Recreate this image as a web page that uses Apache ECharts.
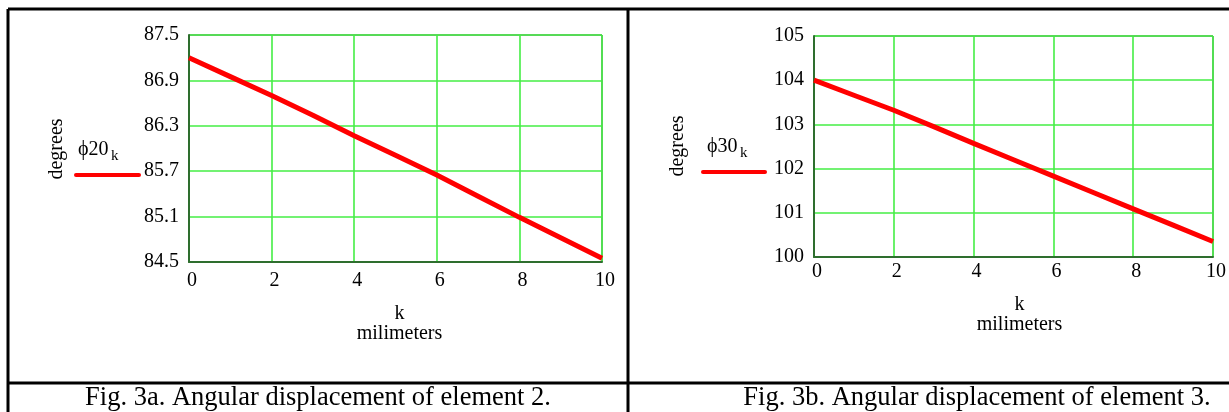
<!DOCTYPE html>
<html>
<head>
<meta charset="utf-8">
<style>
html, body { margin: 0; padding: 0; background: #fff; }
#chart { width: 1229px; height: 412px; }
</style>
<script src="https://cdn.jsdelivr.net/npm/echarts@6/dist/echarts.min.js"></script>
</head>
<body>
<div id="chart"></div>
<script>
// k in milimeters
var kValues = [0, 1, 2, 3, 4, 5, 6, 7, 8, 9, 10];
// angular displacement of element 2 (degrees)
var phi20 = [87.20, 86.95, 86.70, 86.44, 86.17, 85.91, 85.65, 85.37, 85.09, 84.82, 84.55];
// angular displacement of element 3 (degrees)
var phi30 = [104.00, 103.66, 103.32, 102.95, 102.57, 102.20, 101.83, 101.46, 101.09, 100.72, 100.35];
var phi20Ticks = [84.5, 85.1, 85.7, 86.3, 86.9, 87.5];
var phi30Ticks = [100, 101, 102, 103, 104, 105];
var kTicks = [0, 2, 4, 6, 8, 10];
var captions = ['Fig. 3a. Angular displacement of element 2.', 'Fig. 3b. Angular displacement of element 3.'];

var serif = '"Liberation Serif", "Times New Roman", "DejaVu Serif", serif';
var gridGreen = '#44ee44';
var axisGreen = '#2e6e2e';

function pairs(xs, ys) {
	return xs.map(function(x, i) { return [x, ys[i]]; });
}

function xAxisCfg(idx, namePad) {
	return {
		type: 'value',
		gridIndex: idx,
		min: kTicks[0],
		max: kTicks[kTicks.length - 1],
		interval: kTicks[1] - kTicks[0],
		name: 'k\nmilimeters',
		nameLocation: 'middle',
		nameGap: idx == 0 ? 42 : 38,
		nameTextStyle: {
			color: '#000',
			fontFamily: serif,
			fontSize: 20,
			lineHeight: 20,
			padding: namePad
		},
		axisLine: { show: true, onZero: false, lineStyle: { color: axisGreen, width: 2 } },
		axisTick: { show: false },
		axisLabel: {
			color: '#000',
			fontFamily: serif,
			fontSize: 20,
			margin: idx == 0 ? 9 : 5,
			padding: [0, 0, 0, 6]
		},
		splitLine: { show: true, lineStyle: { color: gridGreen, width: 1.6 } }
	};
}

function yAxisCfg(idx, ticks, digits) {
	return {
		type: 'value',
		gridIndex: idx,
		min: ticks[0],
		max: ticks[ticks.length - 1],
		axisLine: { show: true, onZero: false, lineStyle: { color: axisGreen, width: 2 } },
		axisTick: { show: false, customValues: ticks },
		axisLabel: {
			customValues: ticks,
			color: '#000',
			fontFamily: serif,
			fontSize: 20,
			margin: 10,
			formatter: function(v) { return v.toFixed(digits); }
		},
		splitLine: { show: true, lineStyle: { color: gridGreen, width: 1.6 } }
	};
}

function legendParts(x, y, lineX1, lineX2, lineY, label) {
	return [
		{ type: 'text', left: x, top: y, style: { text: label, font: '20px ' + serif, fill: '#000' } },
		{ type: 'text', left: x + 33, top: y + 9, style: { text: 'k', font: '15px ' + serif, fill: '#000' } },
		{ type: 'line', shape: { x1: lineX1, y1: lineY, x2: lineX2, y2: lineY },
			style: { stroke: '#ff0000', lineWidth: 4, lineCap: 'round' } }
	];
}

function degreesText(cx, cy) {
	return {
		type: 'text', x: cx, y: cy, rotation: Math.PI / 2,
		style: { text: 'degrees', font: '20px ' + serif, fill: '#000', align: 'center', verticalAlign: 'middle' }
	};
}

function tableLine(x1, y1, x2, y2) {
	return { type: 'line', shape: { x1: x1, y1: y1, x2: x2, y2: y2 }, style: { stroke: '#000', lineWidth: 3 } };
}

var graphics = [
	tableLine(8, 9, 1229, 9),
	tableLine(8, 9, 8, 412),
	tableLine(628, 9, 628, 412),
	tableLine(8, 383, 1229, 383),
	degreesText(57, 149),
	degreesText(678, 146),
	{ type: 'text', x: 318, y: 398, style: { text: captions[0], font: '26.5px ' + serif, fill: '#000', align: 'center', verticalAlign: 'middle' } },
	{ type: 'text', x: 977, y: 398, style: { text: captions[1], font: '26.5px ' + serif, fill: '#000', align: 'center', verticalAlign: 'middle' } }
].concat(legendParts(78, 140, 76, 139, 175, 'ϕ20'))
 .concat(legendParts(707, 137, 703, 765, 172, 'ϕ30'));

var chart = echarts.init(document.getElementById('chart'));
chart.setOption({
	animation: false,
	backgroundColor: '#fff',
	grid: [
		{ left: 189, top: 35, width: 413, height: 227, show: true, borderColor: '#1d3d1d', borderWidth: 1, backgroundColor: 'transparent' },
		{ left: 814, top: 36, width: 399, height: 221, show: true, borderColor: '#1d3d1d', borderWidth: 1, backgroundColor: 'transparent' }
	],
	xAxis: [xAxisCfg(0, [0, 0, 0, 8]), xAxisCfg(1, [0, 0, 0, 12])],
	yAxis: [yAxisCfg(0, phi20Ticks, 1), yAxisCfg(1, phi30Ticks, 0)],
	series: [
		{
			name: 'ϕ20k', type: 'line', xAxisIndex: 0, yAxisIndex: 0,
			data: pairs(kValues, phi20), showSymbol: false,
			lineStyle: { color: '#ff0000', width: 5 }
		},
		{
			name: 'ϕ30k', type: 'line', xAxisIndex: 1, yAxisIndex: 1,
			data: pairs(kValues, phi30), showSymbol: false,
			lineStyle: { color: '#ff0000', width: 5 }
		}
	],
	graphic: graphics
});
</script>
</body>
</html>
